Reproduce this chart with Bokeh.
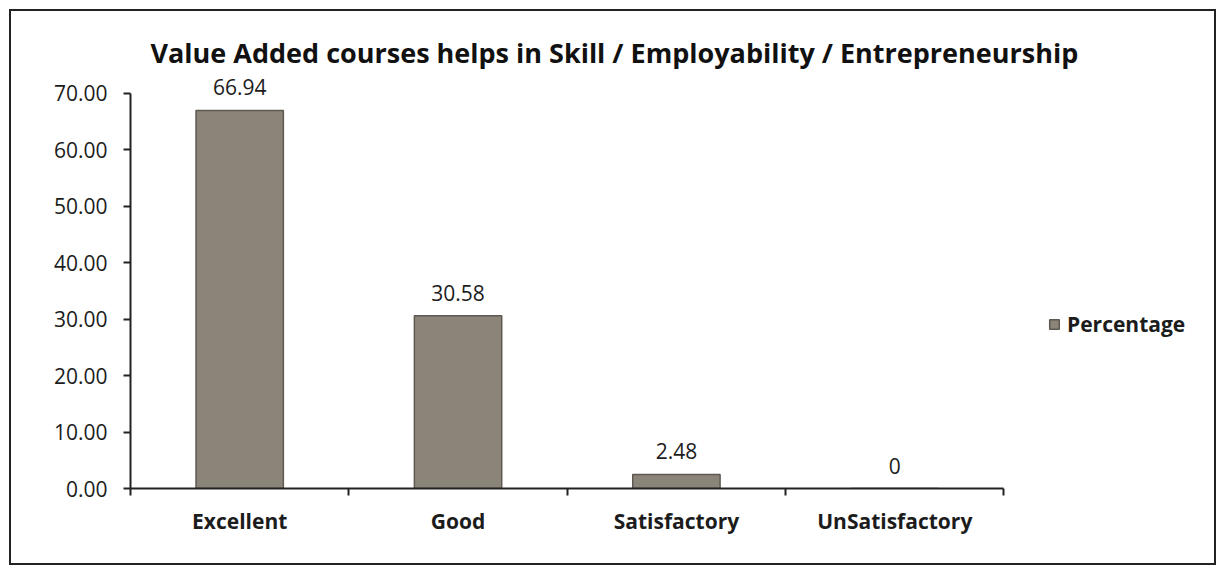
import numpy as np
from bokeh.plotting import figure
from bokeh.core.properties import value
from bokeh.models import (ColumnDataSource, FixedTicker, Range1d, Legend, LegendItem,
                          LabelSet, Title, NumeralTickFormatter)
from bokeh.embed import file_html
from bokeh.resources import INLINE

categories = ["Excellent", "Good", "Satisfactory", "UnSatisfactory"]
percentage = [66.94, 30.58, 2.48, 0]
value_labels = ["66.94", "30.58", "2.48", "0"]
y_ticks = [0, 10, 20, 30, 40, 50, 60, 70]

FONT = "Open Sans"
TXT = "#1c1c1c"
FS = "21px"

n = len(categories)
xpos = np.arange(n) + 0.5
src = ColumnDataSource(dict(x=xpos, top=percentage, lab=value_labels))

p = figure(width=1207, height=556, output_backend="svg", toolbar_location=None,
           x_range=Range1d(0, n * 1.225), y_range=Range1d(0, 74),
           min_border_left=119, min_border_right=18, min_border_top=59, min_border_bottom=79)
p.styles = {"border": "2px solid #222", "margin-left": "9px", "margin-top": "9px"}
p.background_fill_color = "white"
p.border_fill_color = "white"
p.outline_line_color = None
p.grid.visible = False

r = p.vbar(x="x", top="top", width=0.40, source=src,
           fill_color="#8b8479", line_color="#5e5953", line_width=1.5)

p.add_layout(LabelSet(x="x", y="top", text="lab", source=src, text_align="center",
                      text_baseline="bottom", y_offset=15, text_font=value(FONT),
                      text_font_size=FS, text_color=TXT))

# y axis
ya = p.yaxis[0]
ya.bounds = (0, 70)
ya.ticker = FixedTicker(ticks=y_ticks)
ya.formatter = NumeralTickFormatter(format="0.00")
ya.major_label_text_font = FONT
ya.major_label_text_font_size = FS
ya.major_label_text_color = TXT
ya.axis_line_color = "#222"
ya.axis_line_width = 2
ya.major_tick_line_color = "#222"
ya.major_tick_line_width = 2
ya.major_tick_out = 7
ya.major_tick_in = 0
ya.minor_tick_line_color = None
ya.major_label_standoff = 16

# x axis
xa = p.xaxis[0]
xa.bounds = (0, n)
xa.ticker = FixedTicker(ticks=list(xpos), minor_ticks=list(range(n + 1)))
xa.major_label_overrides = {float(x): c for x, c in zip(xpos, categories)}
xa.major_label_text_font = FONT
xa.major_label_text_font_size = FS
xa.major_label_text_font_style = "bold"
xa.major_label_text_color = TXT
xa.axis_line_color = "#222"
xa.axis_line_width = 2
xa.major_tick_line_color = None
xa.major_tick_out = 0
xa.major_tick_in = 0
xa.minor_tick_line_color = "#222"
xa.minor_tick_line_width = 2
xa.minor_tick_out = 7
xa.minor_tick_in = 0
xa.major_label_standoff = 11

title = Title(text="Value Added courses helps in Skill / Employability / Entrepreneurship",
              align="left", offset=20, text_font=FONT, text_font_size="27px",
              text_font_style="bold", text_color="#111", standoff=0)
p.add_layout(title, "above")

legend = Legend(items=[LegendItem(label="Percentage", renderers=[r])],
                location=(918, 150), border_line_color=None, background_fill_alpha=0,
                padding=0, margin=0, glyph_width=12, glyph_height=12, label_standoff=7,
                label_text_font=FONT, label_text_font_size=FS, label_text_font_style="bold",
                label_text_color=TXT)
p.add_layout(legend)

open("out.html", "w").write(file_html(p, INLINE))
